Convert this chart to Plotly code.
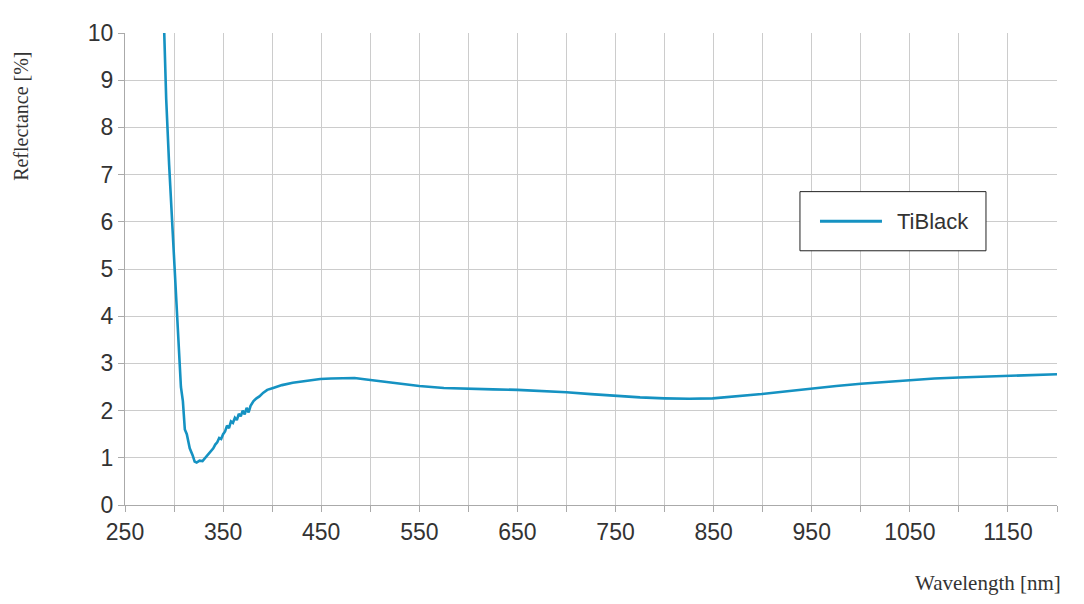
import plotly.graph_objects as go

# wavelength [nm] and reflectance [%]
wavelength = [290, 292, 295, 297, 299, 302, 305, 307, 309, 311, 313, 316, 319, 321, 323,
              326, 329, 332, 335, 337, 340, 342, 344, 346, 348, 350, 352, 354, 356, 358,
              360, 362, 364, 366, 368, 370, 372, 374, 376, 378, 381, 384, 387, 391, 395,
              401, 410, 421, 435, 449, 460, 472, 484, 496, 510, 530, 550, 575, 600, 625,
              650, 675, 700, 725, 750, 775, 800, 825, 849, 875, 899, 925, 950, 975, 1000,
              1025, 1050, 1075, 1100, 1125, 1150, 1175, 1200]
reflectance = [10.0, 8.6, 7.2, 6.4, 5.6, 4.2, 3.2, 2.5, 2.2, 1.6, 1.5, 1.2, 1.05, 0.92, 0.9,
               0.94, 0.93, 1.0, 1.08, 1.13, 1.2, 1.28, 1.33, 1.42, 1.4, 1.5, 1.56, 1.68, 1.63,
               1.77, 1.74, 1.85, 1.8, 1.93, 1.88, 2.0, 1.92, 2.06, 1.96, 2.1, 2.2, 2.26, 2.3,
               2.38, 2.44, 2.48, 2.54, 2.59, 2.63, 2.67, 2.68, 2.69, 2.69, 2.66, 2.62, 2.57,
               2.52, 2.48, 2.46, 2.45, 2.44, 2.42, 2.39, 2.35, 2.31, 2.28, 2.26, 2.25, 2.26,
               2.3, 2.35, 2.41, 2.47, 2.52, 2.57, 2.61, 2.65, 2.68, 2.7, 2.72, 2.74, 2.76, 2.77]

x_ticks = [250, 350, 450, 550, 650, 750, 850, 950, 1050, 1150]
series_name = "TiBlack"

line_color = "#1592c2"
grid_color = "#cccccc"
axis_color = "#aaaaaa"
text_color = "#333333"

fig = go.Figure()
fig.add_trace(go.Scatter(x=wavelength, y=reflectance, mode="lines", name=series_name,
                         line=dict(color=line_color, width=2.6), showlegend=False))

# page body has a small margin, so the figure is a bit smaller than the window
fig.update_layout(
    width=1068, height=588, autosize=False,
    margin=dict(l=117, r=19, t=18, b=91),
    plot_bgcolor="white", paper_bgcolor="white",
    font=dict(family="Liberation Sans, Arial", color=text_color, size=23),
)

fig.update_xaxes(range=[250, 1200], tickvals=x_ticks, ticks="outside", ticklen=6,
                 tickcolor=axis_color, showgrid=True, gridcolor=grid_color,
                 showline=True, linecolor=axis_color, linewidth=1, zeroline=False,
                 minor=dict(dtick=50, tick0=250, ticks="outside", ticklen=6,
                            tickcolor=axis_color, showgrid=True, gridcolor=grid_color),
                 tickfont=dict(size=23))
fig.update_yaxes(range=[0, 10], dtick=1, ticks="outside", ticklen=6,
                 tickcolor=axis_color, showgrid=True, gridcolor=grid_color,
                 showline=True, linecolor=axis_color, linewidth=1, zeroline=False,
                 tickfont=dict(size=23))

# legend: framed box with a line sample and the series name
fig.add_shape(type="rect", xref="paper", yref="paper",
              x0=0.7242, x1=0.9238, y0=0.5386, y1=0.6639,
              line=dict(color="#222222", width=1), fillcolor="white")
fig.add_shape(type="line", xref="paper", yref="paper",
              x0=0.7457, x1=0.8122, y0=0.6013, y1=0.6013,
              line=dict(color=line_color, width=3))
fig.add_annotation(text=series_name, xref="paper", yref="paper",
                   x=0.8262, y=0.6013, showarrow=False,
                   xanchor="left", yanchor="middle",
                   font=dict(size=22, color=text_color))

fig.add_annotation(text="Reflectance [%]", xref="paper", yref="paper",
                   x=-0.1115, y=0.8225, textangle=-90, showarrow=False,
                   xanchor="center", yanchor="middle",
                   font=dict(family="Liberation Serif, serif", size=20, color=text_color))
fig.add_annotation(text="Wavelength [nm]", xref="paper", yref="paper",
                   x=1.0064, y=-0.166, showarrow=False,
                   xanchor="right", yanchor="middle",
                   font=dict(family="Liberation Serif, serif", size=21, color=text_color))

fig.write_html("out.html")
